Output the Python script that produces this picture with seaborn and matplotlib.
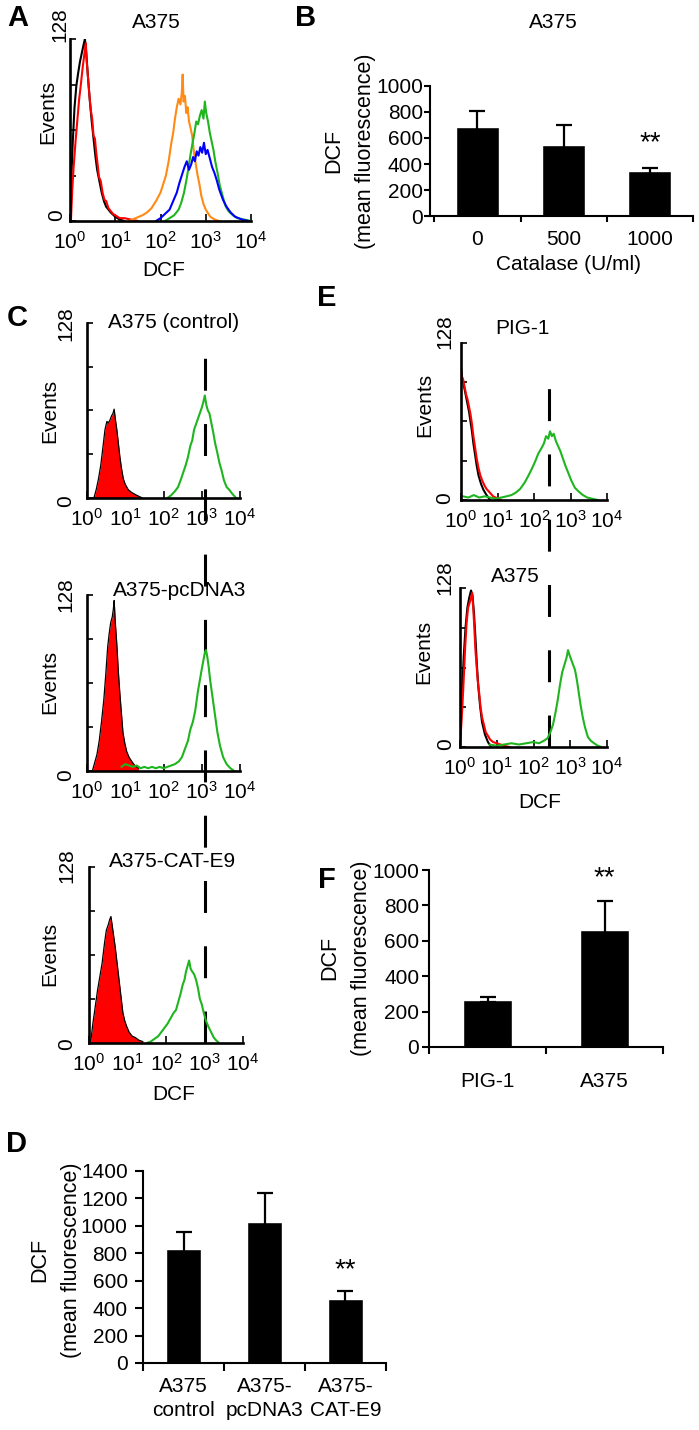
import numpy as np
import matplotlib
matplotlib.use('Agg')
import matplotlib.pyplot as plt
import seaborn as sns
from matplotlib.ticker import LogLocator, NullFormatter

W, H = 699, 1430

# ---------------- histogram data: log10(DCF) and events (0-128) ----------------
# A: A375, catalase series
a_black_x = [0.0, 0.03, 0.06, 0.1, 0.14, 0.18, 0.22, 0.26, 0.3, 0.33, 0.36, 0.4, 0.44, 0.48, 0.52, 0.56, 0.6, 0.65, 0.7, 0.75, 0.8, 0.9, 1.0, 1.1, 1.2]
a_black_y = [8, 30, 55, 80, 95, 104, 112, 118, 124, 128, 118, 100, 84, 70, 58, 46, 36, 28, 20, 14, 10, 6, 3, 1, 0]
a_red_x = [0.02, 0.05, 0.08, 0.12, 0.16, 0.2, 0.24, 0.28, 0.32, 0.35, 0.37, 0.4, 0.43, 0.46, 0.49, 0.52, 0.55, 0.58, 0.61, 0.64, 0.68, 0.72, 0.76, 0.8, 0.85, 0.9, 0.95, 1.0, 1.1, 1.2, 1.35, 1.5]
a_red_y = [0, 22, 38, 55, 70, 85, 96, 108, 118, 125, 112, 100, 88, 78, 72, 60, 58, 48, 40, 31, 28, 20, 15, 14, 9, 7, 5, 4, 2, 2, 1, 0]
a_orange_x = [1.3, 1.45, 1.6, 1.7, 1.8, 1.9, 2.0, 2.06, 2.12, 2.18, 2.24, 2.28, 2.32, 2.36, 2.4, 2.44, 2.47, 2.49, 2.51, 2.54, 2.57, 2.6, 2.63, 2.66, 2.7, 2.74, 2.78, 2.82, 2.86, 2.9, 2.95, 3.0, 3.1, 3.2, 3.3]
a_orange_y = [0, 2, 4, 6, 9, 14, 20, 26, 32, 42, 55, 62, 72, 80, 86, 82, 90, 103, 84, 88, 76, 80, 70, 66, 60, 48, 40, 32, 26, 18, 12, 8, 3, 1, 0]
a_green_x = [2.1, 2.2, 2.3, 2.4, 2.46, 2.52, 2.58, 2.63, 2.67, 2.71, 2.75, 2.79, 2.83, 2.87, 2.91, 2.95, 2.98, 3.01, 3.05, 3.09, 3.13, 3.17, 3.21, 3.26, 3.31, 3.37, 3.43, 3.5, 3.6, 3.7, 3.85, 4.0]
a_green_y = [0, 2, 4, 8, 13, 20, 30, 40, 48, 55, 62, 70, 68, 74, 78, 72, 84, 76, 70, 62, 56, 50, 42, 34, 25, 18, 11, 7, 4, 2, 1, 0]
a_blue_x = [1.9, 2.0, 2.1, 2.2, 2.28, 2.36, 2.42, 2.48, 2.53, 2.58, 2.63, 2.68, 2.72, 2.76, 2.8, 2.84, 2.88, 2.92, 2.96, 3.0, 3.04, 3.09, 3.14, 3.19, 3.24, 3.3, 3.38, 3.46, 3.55, 3.65, 3.8, 3.95]
a_blue_y = [0, 2, 5, 8, 14, 20, 27, 33, 38, 42, 36, 40, 45, 42, 49, 46, 52, 48, 55, 47, 50, 44, 38, 34, 29, 22, 15, 10, 6, 3, 1, 0]

# C: control / pcDNA3 / CAT-E9
c1_red_x = [0.18, 0.24, 0.3, 0.36, 0.42, 0.47, 0.52, 0.56, 0.6, 0.64, 0.68, 0.71, 0.74, 0.78, 0.82, 0.86, 0.9, 0.95, 1.0, 1.08, 1.17, 1.3, 1.45]
c1_red_y = [0, 6, 14, 24, 38, 50, 56, 55, 57, 60, 62, 65, 58, 50, 40, 30, 22, 14, 10, 6, 4, 2, 0]
c1_green_x = [2.1, 2.2, 2.3, 2.38, 2.46, 2.52, 2.58, 2.64, 2.7, 2.75, 2.8, 2.85, 2.9, 2.95, 3.0, 3.04, 3.08, 3.12, 3.16, 3.2, 3.25, 3.3, 3.35, 3.4, 3.46, 3.52, 3.58, 3.65, 3.72, 3.8, 3.9]
c1_green_y = [0, 2, 5, 8, 14, 19, 24, 30, 38, 42, 50, 54, 58, 62, 66, 70, 75, 68, 64, 62, 55, 48, 40, 34, 26, 20, 13, 8, 6, 3, 0]
c2_red_x = [0.14, 0.2, 0.26, 0.32, 0.38, 0.44, 0.49, 0.54, 0.58, 0.62, 0.66, 0.69, 0.71, 0.74, 0.78, 0.82, 0.86, 0.9, 0.94, 0.99, 1.04, 1.1, 1.17, 1.25, 1.35]
c2_red_y = [0, 6, 12, 22, 36, 52, 70, 90, 100, 108, 112, 118, 124, 108, 92, 72, 56, 42, 28, 20, 14, 10, 7, 4, 2]
c2_green_x = [0.9, 1.0, 1.1, 1.2, 1.3, 1.4, 1.5, 1.6, 1.7, 1.8, 1.9, 2.0, 2.1, 2.2, 2.3, 2.4, 2.48, 2.56, 2.64, 2.7, 2.77, 2.83, 2.9, 2.95, 3.0, 3.04, 3.08, 3.11, 3.14, 3.18, 3.22, 3.26, 3.31, 3.35, 3.41, 3.48, 3.56, 3.65, 3.75, 3.85]
c2_green_y = [3, 5, 4, 3, 4, 2, 3, 2, 3, 2, 3, 2, 3, 4, 5, 7, 10, 16, 22, 30, 36, 44, 58, 66, 74, 80, 86, 88, 84, 76, 66, 58, 48, 40, 28, 18, 10, 5, 2, 0]
c3_red_x = [0.04, 0.1, 0.16, 0.22, 0.28, 0.34, 0.4, 0.45, 0.5, 0.54, 0.57, 0.6, 0.64, 0.68, 0.73, 0.78, 0.83, 0.88, 0.93, 0.98, 1.04, 1.12, 1.2, 1.3, 1.4]
c3_red_y = [0, 14, 26, 38, 48, 58, 72, 82, 86, 90, 92, 86, 78, 70, 58, 46, 34, 22, 16, 12, 8, 5, 4, 2, 1]
c3_green_x = [1.5, 1.6, 1.7, 1.8, 1.88, 1.96, 2.04, 2.12, 2.2, 2.26, 2.32, 2.38, 2.43, 2.48, 2.52, 2.56, 2.6, 2.64, 2.68, 2.73, 2.78, 2.83, 2.88, 2.93, 2.98, 3.04, 3.1, 3.17, 3.24, 3.3, 3.38]
c3_green_y = [0, 1, 3, 5, 8, 11, 14, 18, 22, 24, 30, 36, 42, 46, 52, 56, 60, 54, 52, 50, 46, 40, 32, 28, 22, 16, 12, 8, 4, 2, 0]

# E: PIG-1 / A375
e1_black_x = [0.0, 0.03, 0.06, 0.1, 0.14, 0.18, 0.22, 0.26, 0.3, 0.34, 0.38, 0.43, 0.48, 0.55, 0.62, 0.7, 0.8]
e1_black_y = [108, 100, 96, 90, 84, 78, 72, 64, 56, 46, 38, 28, 20, 13, 8, 4, 0]
e1_red_x = [0.0, 0.03, 0.06, 0.1, 0.14, 0.18, 0.22, 0.26, 0.3, 0.34, 0.38, 0.43, 0.48, 0.53, 0.58, 0.64, 0.7, 0.76, 0.82, 0.88, 0.95, 1.02, 1.1]
e1_red_y = [105, 100, 98, 92, 86, 82, 76, 70, 62, 52, 44, 34, 26, 20, 16, 12, 9, 7, 5, 3, 2, 1, 0]
e1_green_x = [0.05, 0.2, 0.35, 0.5, 0.65, 0.8, 0.95, 1.1, 1.25, 1.38, 1.5, 1.62, 1.74, 1.85, 1.95, 2.04, 2.12, 2.2, 2.27, 2.33, 2.39, 2.44, 2.49, 2.54, 2.6, 2.66, 2.72, 2.79, 2.86, 2.94, 3.02, 3.12, 3.22, 3.34, 3.46, 3.6, 3.75]
e1_green_y = [3, 2, 4, 2, 3, 2, 1, 2, 3, 4, 6, 9, 14, 20, 26, 32, 38, 42, 46, 52, 50, 56, 52, 54, 48, 44, 40, 34, 28, 22, 16, 10, 7, 4, 2, 1, 0]
e2_black_x = [0.0, 0.05, 0.1, 0.15, 0.2, 0.25, 0.3, 0.34, 0.38, 0.42, 0.46, 0.5, 0.55, 0.6, 0.68, 0.76, 0.85]
e2_black_y = [0, 40, 72, 96, 112, 120, 126, 122, 108, 88, 66, 48, 32, 20, 10, 4, 0]
e2_red_x = [0.02, 0.06, 0.1, 0.14, 0.18, 0.22, 0.26, 0.3, 0.33, 0.36, 0.39, 0.42, 0.45, 0.48, 0.52, 0.56, 0.6, 0.65, 0.7, 0.76, 0.82, 0.9, 1.0, 1.1, 1.2, 1.35]
e2_red_y = [10, 30, 54, 80, 100, 112, 116, 120, 124, 112, 96, 78, 66, 54, 44, 32, 24, 18, 12, 9, 6, 4, 3, 2, 1, 0]
e2_green_x = [0.8, 1.0, 1.2, 1.4, 1.6, 1.8, 2.0, 2.15, 2.28, 2.38, 2.46, 2.53, 2.6, 2.66, 2.72, 2.78, 2.84, 2.9, 2.94, 2.98, 3.03, 3.08, 3.13, 3.18, 3.23, 3.28, 3.34, 3.4, 3.48, 3.56, 3.65, 3.75, 3.85]
e2_green_y = [2, 1, 2, 3, 2, 3, 4, 3, 5, 7, 12, 18, 28, 38, 50, 60, 66, 72, 78, 74, 70, 66, 62, 54, 44, 34, 24, 16, 8, 5, 3, 1, 0]

c_marker = 1200   # dashed reference line, panel C
e_marker = 257    # dashed reference line, panel E

# ---------------- bar data ----------------
b_labels = ['0', '500', '1000']
b_mean = [688, 546, 345]
b_err = [120, 155, 22]
d_labels = ['A375\ncontrol', 'A375-\npcDNA3', 'A375-\nCAT-E9']
d_mean = [831, 1030, 467]
d_err = [124, 210, 58]
f_labels = ['PIG-1', 'A375']
f_mean = [268, 659]
f_err = [12, 165]

RED, ORANGE, GREEN, BLUE = '#ff0000', '#ff8a14', '#1fb51f', '#0000ff'

sns.set_style('ticks')
plt.rcParams['font.family'] = ['Liberation Sans', 'DejaVu Sans']
plt.rcParams['mathtext.fontset'] = 'custom'
plt.rcParams['mathtext.rm'] = 'Liberation Sans'
plt.rcParams['mathtext.default'] = 'regular'
plt.rcParams['lines.scale_dashes'] = False
plt.rcParams['axes.edgecolor'] = 'black'
plt.rcParams['xtick.color'] = 'black'
plt.rcParams['ytick.color'] = 'black'
plt.rcParams['text.color'] = 'black'

fig = plt.figure(figsize=(W / 100, H / 100), dpi=100)


def box(l, t, r, b):
    ax = fig.add_axes([l / W, 1 - b / H, (r - l) / W, (b - t) / H])
    ax.set_facecolor('none')
    return ax


def ftext(x, y, s, **kw):
    kw.setdefault('ha', 'center')
    kw.setdefault('va', 'center')
    kw.setdefault('fontsize', 15)
    fig.text(x / W, 1 - y / H, s, **kw)


def hist_axes(rect):
    ax = box(*rect)
    ax.set_xscale('log')
    ax.set_xlim(1, 1e4)
    ax.set_ylim(0, 128)
    sns.despine(ax=ax)
    for s in ['left', 'bottom']:
        ax.spines[s].set_linewidth(1.9)
    ax.set_xticks([1, 10, 100, 1000, 10000], [r'$10^{%d}$' % i for i in range(5)])
    ax.xaxis.set_minor_locator(LogLocator(subs=np.arange(2, 10)))
    ax.xaxis.set_minor_formatter(NullFormatter())
    ax.set_yticks([0, 32, 64, 96, 128], [])
    ax.tick_params(axis='x', which='major', direction='in', length=5, width=1.2, pad=7, labelsize=15)
    ax.tick_params(axis='x', which='minor', direction='in', length=3, width=0.8)
    ax.tick_params(axis='y', direction='in', length=4, width=1.2)
    return ax


def curve(ax, lx, ly, color, lw=1.5):
    sns.lineplot(x=10 ** np.array(lx), y=ly, color=color, lw=lw, ax=ax)


def filled(ax, lx, ly):
    x = 10 ** np.array(lx)
    ax.fill_between(x, ly, color=RED, lw=0)
    sns.lineplot(x=x, y=ly, color='black', lw=0.9, ax=ax)


def bar_axes(rect, labels, means, errs, width, ymax, xleft, ticklen, ypad, xpad):
    ax = box(*rect)
    n = len(labels)
    sns.barplot(x=labels, y=means, order=labels, color='black', saturation=1, width=width, ax=ax)
    # symmetric bars: the lower half is hidden inside the black bar
    ax.errorbar(range(n), means, yerr=errs, fmt='none', ecolor='black',
                elinewidth=1.6, capsize=6, capthick=1.6, zorder=1)
    sns.despine(ax=ax)
    for s in ['left', 'bottom']:
        ax.spines[s].set_linewidth(1.5)
    ax.set_xlim(xleft, n - 0.5)
    ax.set_ylim(0, ymax)
    ax.set_yticks(np.arange(0, ymax + 1, 200))
    ax.set_xticks(np.arange(n + 1) - 0.5, [''] * (n + 1))
    ax.set_xticks(range(n), labels, minor=True)
    ax.tick_params(axis='x', which='major', length=ticklen, width=1.5)
    ax.tick_params(axis='x', which='minor', length=0, pad=xpad, labelsize=15)
    ax.tick_params(axis='y', length=ticklen, width=1.5, pad=ypad, labelsize=15)
    ax.set_xlabel('')
    ax.set_ylabel('')
    return ax


# ---------------- layout (pixels: left, top, right, bottom) ----------------
A_R = (70, 39, 251, 221)
B_R = (430, 86, 693, 216)
C1_R = (87, 323, 240, 498)
C2_R = (87, 595, 240, 771)
C3_R = (89, 867, 243, 1043)
E1_R = (461, 343, 607, 500)
E2_R = (460, 588, 607, 747)
D_R = (143, 1171, 386, 1363)
F_R = (429, 870, 663, 1047)

# A
ax = hist_axes(A_R)
curve(ax, a_black_x, a_black_y, 'black')
curve(ax, a_red_x, a_red_y, RED)
curve(ax, a_orange_x, a_orange_y, ORANGE)
curve(ax, a_green_x, a_green_y, GREEN)
curve(ax, a_blue_x, a_blue_y, BLUE)

# C
c1 = hist_axes(C1_R)
filled(c1, c1_red_x, c1_red_y)
curve(c1, c1_green_x, c1_green_y, GREEN)
c2 = hist_axes(C2_R)
filled(c2, c2_red_x, c2_red_y)
curve(c2, c2_green_x, c2_green_y, GREEN)
c3 = hist_axes(C3_R)
filled(c3, c3_red_x, c3_red_y)
curve(c3, c3_green_x, c3_green_y, GREEN)
h1 = C1_R[3] - C1_R[1]
c1.axvline(c_marker, ymin=(C1_R[3] - C3_R[3]) / h1, ymax=(C1_R[3] - 342) / h1,
           color='black', lw=2.2, ls=(0, (23, 24)), clip_on=False, zorder=5)

# E
e1 = hist_axes(E1_R)
curve(e1, e1_black_x, e1_black_y, 'black')
curve(e1, e1_red_x, e1_red_y, RED)
curve(e1, e1_green_x, e1_green_y, GREEN)
e2 = hist_axes(E2_R)
curve(e2, e2_black_x, e2_black_y, 'black')
curve(e2, e2_red_x, e2_red_y, RED)
curve(e2, e2_green_x, e2_green_y, GREEN)
he = E1_R[3] - E1_R[1]
e1.axvline(e_marker, ymin=(E1_R[3] - E2_R[3]) / he, ymax=(E1_R[3] - 377) / he,
           color='black', lw=2.2, ls=(0, (23, 24)), clip_on=False, zorder=5)

# bars
bax = bar_axes(B_R, b_labels, b_mean, b_err, 0.5, 1000, -0.55, 4, 1, 10)
bax.text(2, 561, '**', ha='center', va='center', fontsize=20)
dax = bar_axes(D_R, d_labels, d_mean, d_err, 0.43, 1400, -0.5, 6, 5, 10)
for lab in dax.get_xticklabels(minor=True):
    lab.set_linespacing(1.35)
dax.text(2, 678, '**', ha='center', va='center', fontsize=20)
fax = bar_axes(F_R, f_labels, f_mean, f_err, 0.42, 1000, -0.5, 5, 2, 18)
fax.text(1, 955, '**', ha='center', va='center', fontsize=20)

# ---------------- texts ----------------
for x, y, s in [(18, 18, 'A'), (306, 18, 'B'), (17, 318, 'C'), (17, 1144, 'D'),
                (327, 298, 'E'), (327, 880, 'F')]:
    ftext(x, y, s, fontsize=21, fontweight='bold')

for x, y, s in [(156, 22, 'A375'), (553, 22, 'A375'), (174, 322, 'A375 (control)'),
                (180, 591, 'A375-pcDNA3'), (173, 861, 'A375-CAT-E9'),
                (522, 328, 'PIG-1'), (515, 576, 'A375')]:
    ftext(x, y, s)

# y tick labels of the histograms (rotated)
for x, y, s in [(60, 25, '128'), (57, 215, '0'), (66, 324, '128'), (66, 501, '0'),
                (66, 595, '128'), (66, 775, '0'), (67, 866, '128'), (67, 1044, '0'),
                (445, 332, '128'), (445, 498, '0'), (445, 578, '128'), (446, 744, '0')]:
    ftext(x, y, s, rotation=90)

for x, y in [(48, 112), (50, 411), (50, 682), (50, 954), (425, 405), (424, 652)]:
    ftext(x, y, 'Events', rotation=90)

for x, y in [(164, 270), (174, 1095), (540, 802)]:
    ftext(x, y, 'DCF')

ftext(568, 265, 'Catalase (U/ml)')
# two-line y labels of the bar charts (DCF / (mean fluorescence))
for x, y in [(334, 151), (40, 1260), (330, 958)]:
    ftext(x, y, 'DCF', rotation=90, fontsize=15.5)
    ftext(x + 31, y, '(mean fluorescence)', rotation=90, fontsize=15.5)

fig.savefig('out.png', dpi=100)
